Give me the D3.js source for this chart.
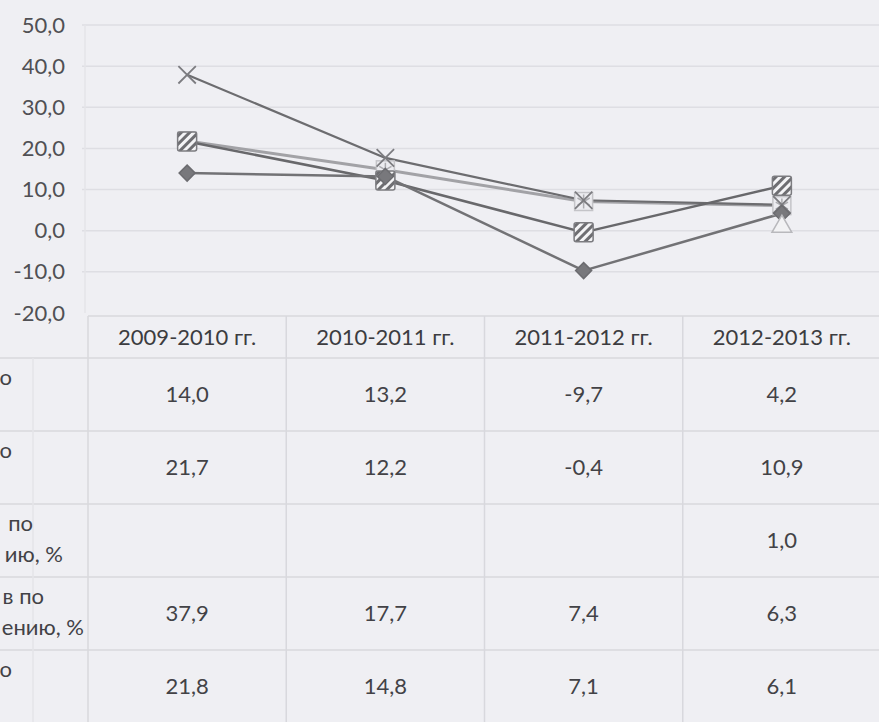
<!DOCTYPE html>
<html><head><meta charset="utf-8">
<script src="https://cdn.jsdelivr.net/npm/d3@7"></script>
<style>
html,body{margin:0;padding:0;background:#efeff3;overflow:hidden;}
svg{display:block;font-family:Lato,"Open Sans",sans-serif;}
</style></head>
<body>
<svg id="c" width="879" height="722"></svg>
<script>
// ---- data ----
const categories = ["2009-2010 гг.", "2010-2011 гг.", "2011-2012 гг.", "2012-2013 гг."];
const series1 = [14.0, 13.2, -9.7, 4.2];     // diamond
const series2 = [21.7, 12.2, -0.4, 10.9];    // hatched square
const series3 = [null, null, null, 1.0];     // triangle
const series4 = [37.9, 17.7, 7.4, 6.3];      // x
const series5 = [21.8, 14.8, 7.1, 6.1];      // asterisk square
const yTicks = [-20, -10, 0, 10, 20, 30, 40, 50];
const rowLabelFragments = [["о"], ["о"], ["по", "ию, %"], ["в по", "ению, %"], ["о"]];

const seriesList = [
  {values: series1, marker: "diamond", line: "#727275", lw: 2.5},
  {values: series2, marker: "hatch", line: "#68686b", lw: 2.5},
  {values: series3, marker: "triangle", line: "#a0a0a4", lw: 2.5},
  {values: series4, marker: "x", line: "#6c6c6f", lw: 2.2},
  {values: series5, marker: "aster", line: "#a2a2a6", lw: 3}
];

const W = 879, H = 722;
const svg = d3.select("#c");
const locale = d3.formatLocale({decimal: ",", thousands: " ", grouping: [3], currency: ["", ""], minus: "-"});
const fmt = locale.format(".1f");

const x = d3.scaleBand().domain(categories).range([88, 881]).padding(0);
const y = d3.scaleLinear().domain([-20, 50]).range([313, 25]);
const cx = c => x(c) + x.bandwidth() / 2;

const defs = svg.append("defs");
const pat = defs.append("pattern").attr("id", "hatch").attr("patternUnits", "userSpaceOnUse")
  .attr("width", 6).attr("height", 6).attr("patternTransform", "rotate(45)");
pat.append("rect").attr("width", 6).attr("height", 6).attr("fill", "#f4f4f6");
pat.append("rect").attr("width", 3).attr("height", 6).attr("fill", "#6e6e72");

// gridlines
svg.append("g").selectAll("line").data(yTicks.filter(t => t > -20)).join("line")
  .attr("x1", 82).attr("x2", W).attr("y1", d => y(d)).attr("y2", d => y(d))
  .attr("stroke", "#dedee3").attr("stroke-width", 1.5);
svg.append("line").attr("x1", 85).attr("x2", 85).attr("y1", y(50)).attr("y2", y(-20))
  .attr("stroke", "#e4e4e8").attr("stroke-width", 1.5);

// y axis labels
const yAxis = d3.axisLeft(y).tickValues(yTicks).tickFormat(fmt).tickSize(0).tickPadding(0);
const ya = svg.append("g").attr("transform", "translate(65,0)").call(yAxis);
ya.select(".domain").remove();
ya.selectAll("text").attr("font-size", 22).attr("fill", "#505054").attr("font-family", "Lato");

// table
const tableTop = y(-20) + 3, headerH = 42, rowH = 73;
const tg = svg.append("g");
const rowsY = d3.range(6).map(i => tableTop + headerH + i * rowH);
tg.append("line").attr("x1", x.range()[0]).attr("x2", W).attr("y1", tableTop).attr("y2", tableTop)
  .attr("stroke", "#d8d8dd").attr("stroke-width", 1.5);
tg.selectAll("line.h").data(rowsY).join("line").attr("class", "h")
  .attr("x1", 0).attr("x2", W).attr("y1", d => d).attr("y2", d => d)
  .attr("stroke", "#d8d8dd").attr("stroke-width", 1.5);
const vx = categories.map(c => x(c)).concat([x.range()[1]]);
tg.selectAll("line.v").data(vx).join("line").attr("class", "v")
  .attr("x1", d => d).attr("x2", d => d).attr("y1", tableTop).attr("y2", H)
  .attr("stroke", "#d8d8dd").attr("stroke-width", 1.5);
tg.append("line").attr("x1", 33).attr("x2", 33).attr("y1", tableTop + headerH).attr("y2", H)
  .attr("stroke", "#e4e4e8").attr("stroke-width", 1.5);

// header
tg.selectAll("text.hd").data(categories).join("text").attr("class", "hd")
  .attr("x", d => cx(d)).attr("y", tableTop + headerH / 2).attr("dy", "0.35em")
  .attr("text-anchor", "middle").attr("font-size", 22).attr("fill", "#3c3c40").text(d => d);

// values
seriesList.forEach((s, i) => {
  const ry = rowsY[0] + i * rowH + rowH / 2;
  tg.selectAll("text.v" + i).data(categories).join("text").attr("class", "v" + i)
    .attr("x", d => cx(d)).attr("y", ry).attr("dy", "0.35em")
    .attr("text-anchor", "middle").attr("font-size", 22).attr("fill", "#424246")
    .text((d, j) => s.values[j] == null ? "" : fmt(s.values[j]));
});

// row label fragments (left edge of the scan)
const labelEnds = [[12], [12], [33], [44, 84], [12]];
rowLabelFragments.forEach((lines, i) => {
  const ry = rowsY[0] + i * rowH + rowH / 2;
  lines.forEach((t, k) => {
    const xe = (i === 2 && k === 1) ? 63 : labelEnds[i][k];
    tg.append("text").attr("x", xe).attr("y", ry - 17 + k * 31).attr("dy", "0.35em")
      .attr("text-anchor", "end").attr("font-size", 22).attr("fill", "#424246").text(t);
  });
});

// lines
const lineGen = d3.line().defined(d => d.v != null).x(d => cx(d.c)).y(d => y(d.v));
const drawOrder = [4, 3, 1, 0, 2];
drawOrder.forEach(i => {
  const s = seriesList[i];
  const pts = categories.map((c, j) => ({c, v: s.values[j]}));
  svg.append("path").datum(pts).attr("d", lineGen).attr("fill", "none")
    .attr("stroke", s.line).attr("stroke-width", s.lw).attr("stroke-linejoin", "round");
});

// markers
drawOrder.forEach(i => {
  const s = seriesList[i];
  const pts = categories.map((c, j) => ({c, v: s.values[j]})).filter(d => d.v != null);
  const g = svg.append("g");
  pts.forEach(p => {
    const mg = g.append("g").attr("transform", `translate(${cx(p.c)},${y(p.v)})`);
    if (s.marker === "diamond") {
      mg.append("path").attr("d", "M0,-8L8,0L0,8L-8,0Z")
        .attr("fill", "#78787c").attr("stroke", "#6c6c70").attr("stroke-width", 1.5);
    } else if (s.marker === "hatch") {
      mg.append("rect").attr("x", -9.5).attr("y", -9.5).attr("width", 19).attr("height", 19).attr("rx", 2)
        .attr("fill", "url(#hatch)").attr("stroke", "#7c7c80").attr("stroke-width", 1.5);
    } else if (s.marker === "triangle") {
      mg.append("path").attr("d", d3.symbol(d3.symbolTriangle, 170)())
        .attr("fill", "#f2f2f4").attr("stroke", "#b8b8bc").attr("stroke-width", 1.5);
    } else if (s.marker === "x") {
      mg.append("path").attr("d", d3.symbol(d3.symbolX, 200)())
        .attr("fill", "none").attr("stroke", "#7c7c80").attr("stroke-width", 1.8);
    } else if (s.marker === "aster") {
      mg.append("rect").attr("x", -9).attr("y", -9).attr("width", 18).attr("height", 18)
        .attr("fill", "#ececf0").attr("stroke", "#c4c4c8").attr("stroke-width", 1.5);
      mg.append("path").attr("d", d3.symbol(d3.symbolAsterisk, 140)())
        .attr("fill", "none").attr("stroke", "#acacb0").attr("stroke-width", 1.5);
    }
  });
});
</script>
</body></html>
